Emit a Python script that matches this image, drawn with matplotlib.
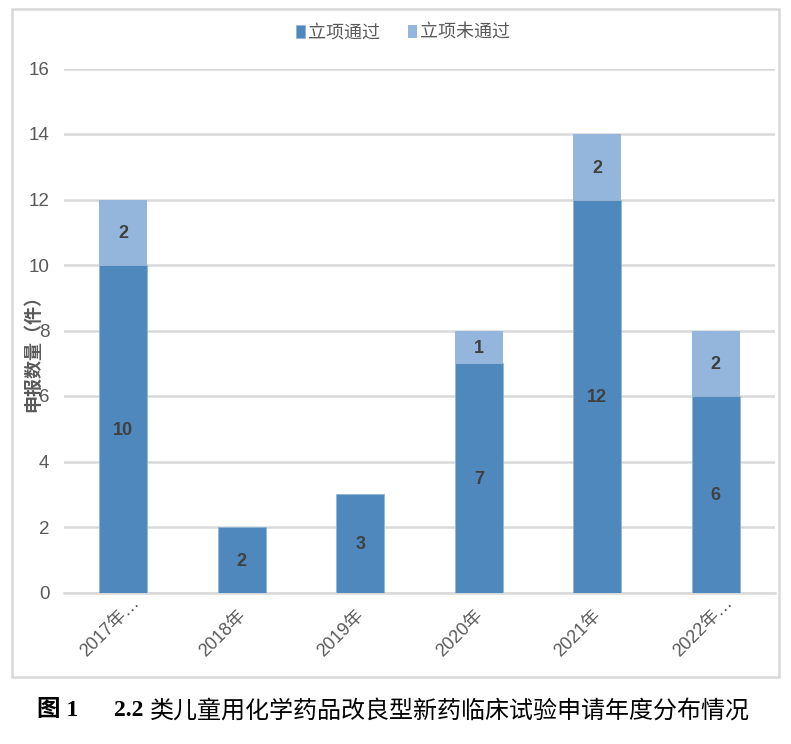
"""
Stacked bars: yearly applications, passed vs not passed.
"""

import matplotlib
matplotlib.use("Agg")
import matplotlib.pyplot as plt
from matplotlib.patches import Rectangle
from matplotlib.transforms import ScaledTranslation

plt.rcParams["font.family"] = ["Liberation Sans", "Noto Sans CJK SC"]

W, H = 791, 744

# ── Data ────────────────────────────────────────────────────────────────────

years = ["2017年…", "2018年", "2019年", "2020年", "2021年", "2022年…"]
passed = [10, 2, 3, 7, 12, 6]
not_passed = [2, 0, 0, 1, 2, 2]
y_ticks = [0, 2, 4, 6, 8, 10, 12, 14, 16]

BLUE = "#4F88BC"
LIGHT = "#95B6DC"
GRID = "#D9D9D9"
TICK = "#595959"
LABEL = "#404040"


# ── Figure ──────────────────────────────────────────────────────────────────

fig = plt.figure(figsize=(W / 100, H / 100), dpi=100, facecolor="white")
ax = fig.add_axes([64 / W, 1 - 592.5 / H, (775 - 64) / W, (592.5 - 68.5) / H])

fig.add_artist(Rectangle((11.5 / W, 1 - 677 / H), (779 - 11.5) / W, (677 - 8.5) / H,
                         transform=fig.transFigure, fill=False,
                         edgecolor=GRID, linewidth=1.8))

x = range(len(years))
ax.bar(x, passed, width=0.405, color=BLUE, edgecolor="#8FB4D8", linewidth=0.5,
       zorder=3, label="立项通过")
ax.bar(x, not_passed, width=0.405, bottom=passed, color=LIGHT, linewidth=0,
       zorder=3, label="立项未通过")

for i, (p, n) in enumerate(zip(passed, not_passed)):
    ax.annotate(str(p), (i, p / 2), xytext=(0, -1), textcoords="offset points",
                ha="center", va="center", fontsize=13, fontweight="bold",
                color=LABEL, zorder=4)
    if n:
        ax.annotate(str(n), (i, p + n / 2), xytext=(0, -1), textcoords="offset points",
                    ha="center", va="center", fontsize=13, fontweight="bold",
                    color=LABEL, zorder=4)

ax.set_xlim(-0.5, 5.5)
ax.set_ylim(0, 16)
ax.set_yticks(y_ticks)
ax.set_xticks(list(x))
ax.set_xticklabels(years, rotation=45, ha="left", va="center", rotation_mode="anchor",
                   fontsize=13, color=TICK)
ax.tick_params(axis="y", length=0, pad=10.5, labelsize=13.5, labelcolor=TICK)
ax.tick_params(axis="x", length=0, pad=44)
# labels start at a fixed spot below-left of each tick
shift = ScaledTranslation(-0.40, 0, fig.dpi_scale_trans)
for lab in ax.get_xticklabels():
    lab.set_transform(lab.get_transform() + shift)
ax.grid(axis="y", color=GRID, linewidth=1.8, zorder=0)
ax.set_axisbelow(True)
for name, spine in ax.spines.items():
    spine.set_visible(name == "bottom")
ax.spines["bottom"].set_color(GRID)
ax.spines["bottom"].set_linewidth(1.8)

# the axis title sits over the 6 and 8 tick labels, as in the source image
fig.text(33 / W, 1 - 349 / H, "申报数量（件）", rotation=90, ha="center", va="center",
         fontsize=13, fontweight="bold", color=TICK, family=["Noto Sans CJK SC"])

ax.legend(loc="center", bbox_to_anchor=(403 / W, 1 - 33 / H),
          bbox_transform=fig.transFigure, ncol=2, frameon=False,
          labelcolor=TICK, handlelength=0.5, handleheight=0.7, handletextpad=0.2,
          columnspacing=1.5, prop={"family": "Noto Sans CJK SC", "size": 13, "weight": "medium"})

fig.text(37 / W, 1 - 711 / H, "图 1", ha="left", va="center", fontsize=17,
         fontweight="bold", color="black", family=["Liberation Serif", "Noto Sans CJK SC"])
fig.text(114 / W, 1 - 711 / H, "2.2", ha="left", va="center", fontsize=17,
         fontweight="bold", color="black", family=["Liberation Serif"])
fig.text(150 / W, 1 - 711 / H, "类儿童用化学药品改良型新药临床试验申请年度分布情况",
         ha="left", va="center", fontsize=17.3, color="black", family=["Noto Sans CJK SC"])

fig.savefig("out.png", dpi=100)
